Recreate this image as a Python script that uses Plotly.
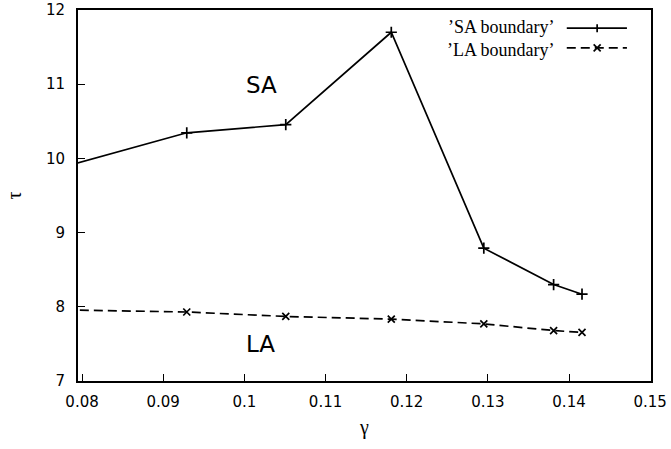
import plotly.graph_objects as go

# ---- data ----
gamma_sa = [0.078, 0.0929, 0.1051, 0.1181, 0.1295, 0.1381, 0.1416]
tau_sa = [9.895, 10.345, 10.455, 11.70, 8.79, 8.30, 8.17]
gamma_la = [0.078, 0.0929, 0.1051, 0.1181, 0.1295, 0.1381, 0.1416]
tau_la = [7.958, 7.93, 7.87, 7.834, 7.77, 7.68, 7.655]
x_ticks = [0.08, 0.09, 0.10, 0.11, 0.12, 0.13, 0.14, 0.15]
x_ticklabels = ["0.08", "0.09", "0.1", "0.11", "0.12", "0.13", "0.14", "0.15"]
y_ticks = [7, 8, 9, 10, 11, 12]
series_names = ["’SA boundary’", "’LA boundary’"]
region_labels = ["SA", "LA"]
region_pos = [(0.1021, 10.99), (0.1020, 7.495)]

fig = go.Figure()
fig.add_trace(go.Scatter(
    x=gamma_sa, y=tau_sa, mode="lines+markers", name=series_names[0],
    line=dict(color="black", width=1.7),
    marker=dict(symbol="cross-thin", size=8, line=dict(color="black", width=1.7)),
    showlegend=False))
fig.add_trace(go.Scatter(
    x=gamma_la, y=tau_la, mode="lines+markers", name=series_names[1],
    line=dict(color="black", width=1.7, dash="9px,5px"),
    marker=dict(symbol="x-thin", size=7, line=dict(color="black", width=1.7)),
    showlegend=False))

# region labels
for txt, (xx, yy) in zip(region_labels, region_pos):
    fig.add_annotation(x=xx, y=yy, xref="x", yref="y", text=txt, showarrow=False,
                       font=dict(family="DejaVu Sans, Liberation Sans", size=23, color="black"))

# manual legend (text right-aligned, sample on the right as in gnuplot)
leg_rows = [0.951, 0.898]
leg_text_x = 0.834
leg_line = (0.853, 0.958)
leg_mark = 0.906
dashes = ["solid", "9px,5px"]
fig.add_annotation(x=leg_text_x, y=sum(leg_rows) / 2, xref="paper", yref="paper",
                   text="<br>".join(series_names), align="right",
                   showarrow=False, xanchor="right", yanchor="middle",
                   font=dict(family="Liberation Serif, Times New Roman", size=18, color="black"))
for i in range(len(series_names)):
    yy = leg_rows[i]
    fig.add_shape(type="line", xref="paper", yref="paper", x0=leg_line[0], x1=leg_line[1],
                  y0=yy, y1=yy, line=dict(color="black", width=1.7, dash=dashes[i]))
    if i == 0:
        segs = [(0, 0, -4, 4)]
    else:
        segs = [(-3.5, 3.5, -3.5, 3.5), (-3.5, 3.5, 3.5, -3.5)]
    for (a, b, c, d) in segs:
        fig.add_shape(type="line", xref="paper", yref="paper",
                      xsizemode="pixel", ysizemode="pixel",
                      xanchor=leg_mark, yanchor=yy, x0=a, x1=b, y0=c, y1=d,
                      line=dict(color="black", width=1.7))

tickfont = dict(family="DejaVu Sans, Liberation Sans", size=15, color="black")
fig.update_layout(
    width=671, height=449,
    margin=dict(l=78, r=20, t=10, b=68, autoexpand=False),
    plot_bgcolor="white", paper_bgcolor="white",
    showlegend=False,
    xaxis=dict(range=[0.0795, 0.1501], tickvals=x_ticks, ticktext=x_ticklabels,
               ticks="inside", ticklen=7, tickwidth=1.2, tickcolor="black",
               showline=True, linecolor="black", linewidth=2, mirror=True, automargin=False,
               showgrid=False, zeroline=False, tickfont=tickfont, ticklabelstandoff=6,
               title=dict(text="γ", standoff=10,
                          font=dict(family="Liberation Serif, DejaVu Serif", size=20, color="black"))),
    yaxis=dict(range=[7, 12], tickvals=y_ticks,
               ticks="inside", ticklen=7, tickwidth=1.2, tickcolor="black",
               showline=True, linecolor="black", linewidth=2, mirror=True, automargin=False,
               showgrid=False, zeroline=False, tickfont=tickfont, ticklabelstandoff=8,
               title=dict(text="τ", standoff=19,
                          font=dict(family="Liberation Serif, DejaVu Serif", size=20, color="black"))),
)

fig.write_html("out.html")
